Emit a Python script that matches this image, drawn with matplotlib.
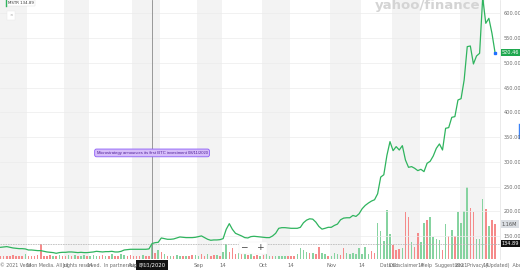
import matplotlib
matplotlib.use("Agg")
import matplotlib.pyplot as plt
import matplotlib.transforms as mtransforms
import numpy as np
import pandas as pd

# MSTR daily closes, 2 Jun 2020 -> 20 Jan 2021
close = [127.3, 128.0, 128.7, 127.3, 126.0, 125.3, 124.6, 124.6, 124.0, 121.9,
         121.9, 121.3, 120.6, 120.6, 119.2, 117.9, 117.2, 116.6, 115.2, 116.6,
         117.2, 117.2, 117.9, 117.9, 117.2, 116.6, 117.2, 116.6, 116.6, 117.2,
         117.9, 119.2, 118.6, 117.9, 118.6, 118.6, 119.2, 117.9, 117.9, 119.2,
         121.9, 122.6, 123.3, 123.3, 123.3, 123.3, 123.3, 123.3, 124.0, 134.89,
         136.7, 137.4, 146.2, 144.8, 143.5, 143.5, 144.2, 146.2, 148.2, 147.5,
         146.9, 146.9, 146.9, 147.5, 148.9, 150.3, 146.9, 143.5, 141.5, 142.2,
         142.2, 142.8, 144.8, 163.6, 175.1, 163.6, 155.6, 152.9, 150.2, 146.9,
         146.2, 148.9, 149.6, 148.9, 148.2, 147.5, 146.9, 146.9, 150.2, 155.6,
         165.7, 167.0, 167.0, 166.4, 165.7, 165.7, 165.7, 167.7, 176.9, 182.2,
         184.9, 184.2, 178.2, 169.4, 164.0, 165.7, 167.7, 167.7, 171.5, 174.2,
         182.9, 186.3, 187.0, 187.0, 191.7, 189.7, 195.1, 205.3, 212.0, 216.7,
         220.7, 223.4, 235.5, 269.2, 273.9, 312.9, 340.8, 322.6, 330.7, 323.9,
         332.7, 303.7, 288.9, 290.3, 286.9, 282.2, 284.9, 280.2, 297.0, 301.1,
         311.8, 327.3, 336.1, 323.9, 367.7, 369.1, 389.9, 391.3, 424.9, 427.6,
         465.3, 532.7, 534.0, 497.7, 513.8, 519.2, 632.0, 579.8, 589.9, 559.6,
         520.46]

# volume in millions of shares
volume = [0.10, 0.08, 0.10, 0.09, 0.12, 0.08, 0.10, 0.09, 0.14, 0.10,
          0.08, 0.10, 0.12, 0.50, 0.10, 0.08, 0.12, 0.09, 0.10, 0.13,
          0.09, 0.08, 0.11, 0.09, 0.12, 0.10, 0.08, 0.12, 0.09, 0.10,
          0.12, 0.10, 0.09, 0.13, 0.08, 0.10, 0.14, 0.09, 0.10, 0.16,
          0.12, 0.10, 0.12, 0.09, 0.10, 0.08, 0.12, 0.10, 0.09, 0.50,
          0.20, 0.29, 0.23, 0.15, 0.09, 0.09, 0.09, 0.11, 0.07, 0.09,
          0.09, 0.09, 0.11, 0.11, 0.09, 0.15, 0.07, 0.15, 0.08, 0.11,
          0.11, 0.09, 0.22, 0.50, 0.22, 0.37, 0.15, 0.18, 0.15, 0.17,
          0.12, 0.18, 0.09, 0.11, 0.09, 0.11, 0.15, 0.09, 0.09, 0.07,
          0.09, 0.09, 0.09, 0.07, 0.07, 0.09, 0.15, 0.34, 0.29, 0.22,
          0.18, 0.20, 0.15, 0.40, 0.18, 0.15, 0.09, 0.09, 0.18, 0.15,
          0.11, 0.34, 0.18, 0.15, 0.18, 0.15, 0.34, 0.15, 0.40, 0.15,
          0.24, 0.20, 1.18, 0.91, 0.59, 1.63, 0.84, 0.44, 0.27, 0.32,
          0.37, 1.56, 1.38, 0.54, 0.40, 0.87, 0.57, 1.18, 1.29, 1.38,
          0.74, 0.64, 0.62, 0.27, 1.16, 0.77, 0.97, 0.77, 1.55, 1.18,
          1.61, 2.39, 1.71, 1.55, 0.67, 0.64, 2.00, 1.66, 1.09, 1.29,
          1.16]

# u = up day (green bar), d = down day (red bar)
vol_dir = ("ddddddddud" "dddddddudu" "ddududuudu" "uuddududdu" "uddddduddu"
           "dudududuud" "udduuddudd" "uduudddudu" "dudduduudu" "uuuddduuuu"
           "dudduuduuu" "dduuuuuuuu" "dduuuuuddd" "uddudduudu" "uuudududuu"
           "uudduuududd")

holidays = ["2020-07-03", "2020-09-07", "2020-11-26", "2020-12-25",
            "2021-01-01", "2021-01-18"]
price_ticks = [150, 200, 250, 300, 350, 400, 450, 500, 550, 600]
event_day = "2020-08-11"
event_text = "Microstrategy announces its first BTC investment 08/11/2020"
cross_price = 134.89
last_vol_label = "1.16M"

dates = pd.bdate_range("2020-06-02", "2021-01-31", freq="C", holidays=holidays)[:len(close)]
x = np.arange(len(close))

GREEN = "#2fb45e"
W, H = 520, 272
fig = plt.figure(figsize=(W / 100, H / 100), dpi=100)
fig.patch.set_facecolor("white")

axv = fig.add_axes([0, 13.5 / H, 500 / W, 258.5 / H])
ax = fig.add_axes([0, 13.5 / H, 500 / W, 258.5 / H], sharex=axv)
axv.set_zorder(1)
ax.set_zorder(2)
ax.patch.set_visible(False)

# tick positions: first trading day of each month and first trading day >= 14th
ser = pd.Series(x, index=dates)
tick_pos, tick_lab, bands = [], [], []
for per in pd.period_range("2020-06", "2021-01", freq="M"):
    m = ser[(ser.index.year == per.year) & (ser.index.month == per.month)]
    start = m.iloc[0]
    mid = m[m.index.day >= 14].iloc[0] if (m.index.day >= 14).any() else None
    if start > 0:
        tick_pos.append(start)
        tick_lab.append("2021" if per.month == 1 else per.strftime("%b"))
    if mid is not None:
        tick_pos.append(mid)
        tick_lab.append("14")
        bands.append((start - 0.5, mid - 0.4))

for a, b in bands:
    axv.axvspan(a, b, color="#f3f3f3", lw=0, zorder=0)

cols = ["#86d3a0" if d == "u" else "#f58a8a" for d in vol_dir]
axv.bar(x, volume, width=0.5, color=cols, zorder=2)
axv.set_ylim(0, 8.7)
axv.set_yticks([])
axv.tick_params(axis="x", length=0, labelbottom=False)
for s in axv.spines.values():
    s.set_visible(False)

ax.plot(x, close, color=GREEN, lw=0.9, zorder=5, solid_joinstyle="round")
ax.plot(x[-1], close[-1], marker="s", ms=1.8, color="#1f6fff", zorder=6)
ax.set_xlim(-0.2, 161.6)
ax.set_ylim(104.7, 626.9)
ax.set_yticks(price_ticks)
ax.set_yticklabels([f"{v:.2f}" for v in price_ticks])
ax.yaxis.tick_right()
ax.yaxis.grid(True, color="#ebebeb", lw=0.5)
ax.set_axisbelow(True)
ax.tick_params(axis="y", length=0, pad=2.5, labelsize=3.6, labelcolor="#6b6b6b")
ax.set_xticks(tick_pos)
ax.set_xticklabels(tick_lab)
ax.tick_params(axis="x", length=0, pad=3, labelsize=3.8, labelcolor="#6b6b6b",
               labelbottom=True)
for side in ["top", "left", "bottom"]:
    ax.spines[side].set_visible(False)
ax.spines["right"].set_color("#e2e2e2")
ax.spines["right"].set_linewidth(0.5)

# crosshair on the event day
ev = ser[pd.Timestamp(event_day)]
ax.axvline(ev, color="#8a8a8a", lw=0.6, zorder=4)
ax.axhline(cross_price, color="#bdbdbd", lw=0.6, ls=(0, (2, 1)), zorder=4)

ax.text(ev, 318, event_text, ha="center", va="center", fontsize=3.0,
        family="Liberation Sans", color="#4c1d95", zorder=7,
        bbox=dict(boxstyle="round,pad=0.45", fc="#d6bdfa", ec="#8b5cf6", lw=0.6))

# value flags on the right axis
bt = mtransforms.blended_transform_factory(ax.transAxes, ax.transData)
ax.text(1.004, close[-1], f"{close[-1]:.2f}", transform=bt, ha="left", va="center",
        fontsize=3.6, color="white", zorder=8, clip_on=False,
        bbox=dict(boxstyle="square,pad=0.25", fc="#1fa84f", ec="none"))
ax.text(1.004, cross_price, f"{cross_price:.2f}", transform=bt, ha="left", va="center",
        fontsize=3.6, color="white", zorder=8, clip_on=False,
        bbox=dict(boxstyle="square,pad=0.25", fc="#111111", ec="none"))
bv = mtransforms.blended_transform_factory(ax.transAxes, axv.transData)
ax.text(1.004, volume[-1], last_vol_label, transform=bv, ha="left", va="center",
        fontsize=3.6, color="#555555", zorder=8, clip_on=False,
        bbox=dict(boxstyle="square,pad=0.25", fc="#d9dde2", ec="none"))

# date flag on the x axis
bx = mtransforms.blended_transform_factory(ax.transData, fig.transFigure)
ax.text(ev, 7 / H, pd.Timestamp(event_day).strftime("%-m/%d/%Y"), transform=bx,
        ha="center", va="center", fontsize=3.8, color="white", zorder=9, clip_on=False,
        bbox=dict(boxstyle="square,pad=0.4", fc="#111111", ec="none"))

# page furniture from the screenshot
fig.text(375 / W, 1 - 9 / H, "yahoo/finance", fontsize=9.5, fontweight="bold",
         color="#d4d4d4", ha="left", va="baseline", zorder=10)
fig.text(8 / W, 1 - 3 / H, "MSTR 134.89", fontsize=2.8, color="#333333",
         ha="left", va="center", zorder=10,
         bbox=dict(boxstyle="square,pad=0.3", fc="white", ec="#dddddd", lw=0.3))
fig.add_artist(plt.Line2D([5.5 / W, 5.5 / W], [1 - 6 / H, 1.0], color=GREEN, lw=1.0,
                          transform=fig.transFigure, zorder=11))
fig.text(11 / W, 1 - 15 / H, "×", fontsize=3, color="#999999", ha="center", va="center",
         bbox=dict(boxstyle="square,pad=0.6", fc="white", ec="#e6e6e6", lw=0.3))
fig.text(253 / W, 1 - 248 / H, "−   +", fontsize=6.5, color="#444444",
         ha="center", va="center", zorder=10,
         bbox=dict(boxstyle="square,pad=0.2", fc="white", ec="#eeeeee", lw=0.3))
fig.add_artist(plt.Line2D([519 / W, 519 / W], [1 - 138 / H, 1 - 124 / H], color="#3b82f6",
                          lw=1.0, transform=fig.transFigure))
fig.text(0, 7 / H, "© 2021 Verizon Media. All rights reserved.  In partnership with",
         fontsize=3.4, color="#6b6b6b", ha="left", va="center", zorder=10)
fig.text(380 / W, 7 / H, "Data Disclaimer  Help  Suggestions  Privacy (Updated)  About Our Ads",
         fontsize=3.4, color="#6b6b6b", ha="left", va="center", zorder=10)

fig.savefig("out.png", dpi=100, facecolor="white")
